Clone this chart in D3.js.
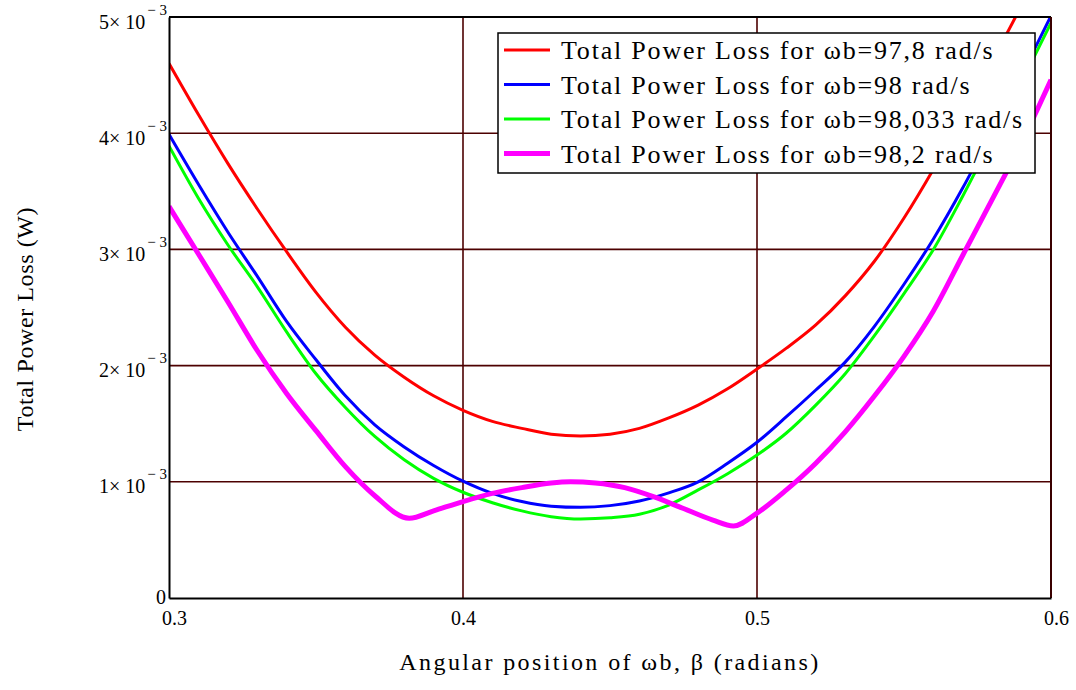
<!DOCTYPE html>
<html>
<head>
<meta charset="utf-8">
<script src="https://cdn.jsdelivr.net/npm/d3@7"></script>
<style>
  body { margin: 0; background: #fff; }
  svg text { font-family: "Liberation Serif", "Times New Roman", serif; fill: #000; }
  .grid line { stroke: #4d0000; stroke-width: 1.6; }
</style>
</head>
<body>
<svg id="chart" width="1076" height="690"></svg>
<script>
// values, power loss in units of 1e-3 W
const redBeta = [0.30, 0.31, 0.32, 0.33, 0.34, 0.35, 0.36, 0.37, 0.38, 0.39, 0.40, 0.41, 0.42, 0.43, 0.44, 0.45, 0.46, 0.47, 0.48, 0.49, 0.50, 0.51, 0.52, 0.53, 0.54, 0.55, 0.56, 0.57, 0.58, 0.59, 0.60]
const redLoss = [4.60, 4.16, 3.74, 3.35, 2.98, 2.63, 2.33, 2.09, 1.90, 1.74, 1.615, 1.52, 1.46, 1.41, 1.395, 1.41, 1.46, 1.55, 1.66, 1.80, 1.97, 2.15, 2.35, 2.60, 2.90, 3.27, 3.69, 4.15, 4.62, 5.10, 5.60]

const blueBeta = [0.30, 0.31, 0.32, 0.33, 0.34, 0.35, 0.36, 0.37, 0.38, 0.39, 0.40, 0.41, 0.42, 0.43, 0.44, 0.45, 0.46, 0.47, 0.48, 0.49, 0.50, 0.51, 0.52, 0.53, 0.54, 0.55, 0.56, 0.57, 0.58, 0.59, 0.60]
const blueLoss = [3.99, 3.56, 3.15, 2.77, 2.38, 2.05, 1.74, 1.49, 1.30, 1.14, 1.005, 0.90, 0.83, 0.79, 0.78, 0.795, 0.835, 0.905, 1.00, 1.16, 1.34, 1.56, 1.79, 2.03, 2.34, 2.70, 3.09, 3.53, 4.01, 4.50, 5.01]

const greenBeta = [0.30, 0.31, 0.32, 0.33, 0.34, 0.35, 0.36, 0.37, 0.38, 0.39, 0.40, 0.41, 0.42, 0.43, 0.44, 0.45, 0.46, 0.47, 0.48, 0.49, 0.50, 0.51, 0.52, 0.53, 0.54, 0.55, 0.56, 0.57, 0.58, 0.59, 0.60]
const greenLoss = [3.89, 3.44, 3.04, 2.68, 2.29, 1.93, 1.64, 1.39, 1.19, 1.03, 0.91, 0.82, 0.75, 0.70, 0.68, 0.69, 0.72, 0.80, 0.93, 1.07, 1.23, 1.42, 1.66, 1.93, 2.26, 2.62, 3.00, 3.46, 3.95, 4.44, 4.95]

const magentaBeta = [0.30, 0.31, 0.32, 0.33, 0.34, 0.35, 0.36, 0.37, 0.3817, 0.39, 0.40, 0.41, 0.42, 0.43, 0.4366, 0.445, 0.455, 0.465, 0.475, 0.485, 0.492, 0.50, 0.51, 0.52, 0.53, 0.54, 0.55, 0.56, 0.57, 0.58, 0.59, 0.60]
const magentaLoss = [3.37, 2.96, 2.55, 2.13, 1.76, 1.44, 1.13, 0.88, 0.686, 0.75, 0.83, 0.90, 0.95, 0.99, 1.00, 0.99, 0.95, 0.87, 0.77, 0.67, 0.62, 0.73, 0.93, 1.16, 1.43, 1.74, 2.08, 2.47, 2.95, 3.43, 3.92, 4.46]

const seriesNames = [
  'Total Power Loss for ωb=97,8 rad/s',
  'Total Power Loss for ωb=98 rad/s',
  'Total Power Loss for ωb=98,033 rad/s',
  'Total Power Loss for ωb=98,2 rad/s'
]
const colors = ['#ff0000', '#0000ff', '#00ff00', '#ff00ff']
const widths = [3, 3, 3, 5]

const xTicks = [0.3, 0.4, 0.5, 0.6]
const yTicks = [0, 1, 2, 3, 4, 5]

const series = [
  [redBeta, redLoss],
  [blueBeta, blueLoss],
  [greenBeta, greenLoss],
  [magentaBeta, magentaLoss]
].map(function(s, i) {
  return {
    name: seriesNames[i],
    color: colors[i],
    width: widths[i],
    values: s[0].map((b, j) => ({ b: b, v: s[1][j] }))
  }
})

const plotL = 169, plotR = 1051, plotT = 17, plotB = 598

const x = d3.scaleLinear().domain([0.3, 0.6]).range([plotL, plotR])
const y = d3.scaleLinear().domain([0, 5]).range([plotB, plotT])

const svg = d3.select('#chart')

svg.append('clipPath').attr('id', 'plot')
  .append('rect')
  .attr('x', plotL).attr('y', plotT)
  .attr('width', plotR - plotL).attr('height', plotB - plotT)

// grid
const grid = svg.append('g').attr('class', 'grid')
grid.selectAll('line.v')
  .data(xTicks.slice(1))
  .enter().append('line')
  .attr('x1', d => x(d)).attr('x2', d => x(d))
  .attr('y1', plotT).attr('y2', plotB)
grid.selectAll('line.h')
  .data(yTicks.slice(1, -1))
  .enter().append('line')
  .attr('x1', plotL).attr('x2', plotR)
  .attr('y1', d => y(d)).attr('y2', d => y(d))

// curves
const line = d3.line()
  .x(d => x(d.b))
  .y(d => y(d.v))
  .curve(d3.curveMonotoneX)

svg.append('g')
  .attr('clip-path', 'url(#plot)')
  .selectAll('path')
  .data(series)
  .enter().append('path')
  .attr('d', d => line(d.values))
  .attr('fill', 'none')
  .attr('stroke', d => d.color)
  .attr('stroke-width', d => d.width)
  .attr('stroke-linejoin', 'round')

// frame
svg.append('line').attr('x1', plotL).attr('x2', plotR).attr('y1', plotT).attr('y2', plotT)
  .attr('stroke', '#000').attr('stroke-width', 2)
svg.append('line').attr('x1', plotR).attr('x2', plotR).attr('y1', plotT).attr('y2', plotB)
  .attr('stroke', '#3a0000').attr('stroke-width', 2)

// axes
const xAxis = d3.axisBottom(x)
  .tickValues(xTicks)
  .tickSize(0)
  .tickFormat(d3.format('.1f'))
svg.append('g')
  .attr('transform', `translate(0, ${plotB})`)
  .call(xAxis)
  .call(g => g.select('.domain').attr('stroke', '#000').attr('stroke-width', 2))
  .call(g => g.selectAll('.tick text')
    .attr('font-size', 20)
    .attr('y', 27)
    .attr('dy', 0)
    .attr('dx', d => (d === 0.3 || d === 0.6) ? 5 : 0))

const yAxis = d3.axisLeft(y)
  .tickValues(yTicks)
  .tickSize(0)
  .tickFormat('')
svg.append('g')
  .attr('transform', `translate(${plotL}, 0)`)
  .call(yAxis)
  .call(g => g.select('.domain').attr('stroke', '#000').attr('stroke-width', 2))
  .call(g => g.selectAll('.tick text').each(function(d) {
    const t = d3.select(this)
      .attr('font-size', 20)
      .attr('text-anchor', 'end')
      .attr('x', -2)
      .attr('dy', 0)
    if (d === 0) {
      t.attr('y', 5).attr('x', -3).text('0')
      return
    }
    t.attr('y', 11)
    t.append('tspan').text(d + '\u00d7 10')
    t.append('tspan').attr('font-size', 15).attr('dy', -14).attr('dx', 2).text('\u2212 3')
  }))

// axis titles
svg.append('text')
  .attr('x', 610).attr('y', 670)
  .attr('text-anchor', 'middle')
  .attr('font-size', 24)
  .attr('letter-spacing', 2.4)
  .text('Angular position of ωb, β (radians)')

svg.append('text')
  .attr('transform', 'translate(33, 319) rotate(-90)')
  .attr('text-anchor', 'middle')
  .attr('font-size', 24)
  .attr('letter-spacing', 0.6)
  .text('Total Power Loss (W)')

// legend
const lg = svg.append('g').attr('transform', 'translate(498, 33)')
lg.append('rect')
  .attr('width', 537).attr('height', 140)
  .attr('fill', '#fff').attr('stroke', '#000').attr('stroke-width', 1.5)
const rows = lg.selectAll('g.row')
  .data(series)
  .enter().append('g')
  .attr('transform', (d, i) => `translate(0, ${17 + i * 34.5})`)
rows.append('line')
  .attr('x1', 6).attr('x2', 52)
  .attr('stroke', d => d.color)
  .attr('stroke-width', d => d.width)
rows.append('text')
  .attr('x', 63).attr('dy', '0.35em')
  .attr('font-size', 26)
  .attr('letter-spacing', 1.8)
  .text(d => d.name)
</script>
</body>
</html>
